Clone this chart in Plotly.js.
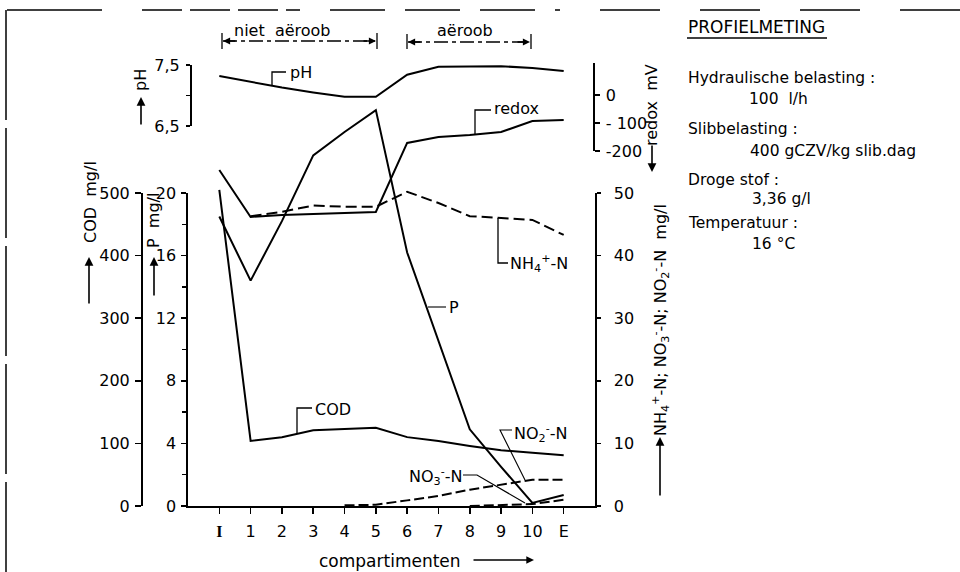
<!DOCTYPE html>
<html>
<head>
<meta charset="utf-8">
<script src="https://cdn.plot.ly/plotly-3.0.1.min.js"></script>
<style>html,body{margin:0;padding:0;background:#fff;}#chart{width:960px;height:572px;}</style>
</head>
<body>
<div id="chart"></div>
<script>
// ---- data ----
const CATS   = ['I','1','2','3','4','5','6','7','8','9','10','E'];
const COD    = [505, 104, 110, 121, 123, 125, 110, 104, 96, 89, 85, 81];          // mg/l
const P      = [18.5, 14.4, 18.2, 22.4, 23.9, 25.3, 16.2, 10.5, 4.9, 2.5, 0.2, 0.7]; // mg/l
const NH4    = [null, 46.3, 47.0, 48.0, 47.8, 47.8, 50.2, 48.4, 46.3, 46.0, 45.7, 43.3];
const NO2    = [null, null, null, null, 0.1, 0.2, 0.9, 1.6, 2.6, 3.4, 4.2, 4.2];
const NO3    = [null, null, null, null, null, null, null, null, 0.0, 0.1, 0.3, 1.0];
const REDOX  = [-268, -436, -429, -426, -422, -418, -171, -150, -143, -132, -93, -89]; // mV
const PH     = [7.32, 7.22, 7.13, 7.05, 6.98, 6.98, 7.34, 7.47, 7.48, 7.48, 7.45, 7.40];
const TICKTEXT_X = ['I','1','2','3','4','5','6','7','8','9','10','E'];

// ---- geometry helpers (pixels -> paper) ----
const W = 960, H = 572;
const px = x => x / W;
const py = y => 1 - y / H;
const FONT = 'DejaVu Sans';
const X0 = 188, X1 = 595;
const MAIN = [193, 506], PHD = [65, 126], RDX = [63, 151];
const DT = 30, DB = 545;
function dataRange(pTop, pBot, r0, r1) {
  const k = (pBot - pTop) / (r1 - r0);
  return [r0 - (DB - pBot) / k, r1 + (pTop - DT) / k];
}

const tf = {family: FONT, size: 16, color: 'black'};
const axBase = {
  showline: true, linecolor: 'black', linewidth: 1.6,
  ticks: 'outside', ticklen: 6, tickwidth: 1.5, tickcolor: 'black',
  showgrid: false, zeroline: false, tickfont: tf, fixedrange: true
};
const hidden = {visible: false, showgrid: false, zeroline: false, fixedrange: true};

const ln = (w, dash) => ({color: 'black', width: w, dash: dash || 'solid'});
const traces = [
  // empty traces to register display axes
  {x: [], y: [], xaxis: 'x', yaxis: 'y', showlegend: false},
  {x: [], y: [], xaxis: 'x', yaxis: 'y2', showlegend: false},
  {x: [], y: [], xaxis: 'x', yaxis: 'y3', showlegend: false},
  {x: [], y: [], xaxis: 'x', yaxis: 'y4', showlegend: false},
  {x: [], y: [], xaxis: 'x', yaxis: 'y5', showlegend: false},
  // data
  {name: 'COD',   x: CATS, y: COD,   xaxis: 'x2', yaxis: 'y6',  mode: 'lines', line: ln(2)},
  {name: 'P',     x: CATS, y: P,     xaxis: 'x2', yaxis: 'y7',  mode: 'lines', line: ln(2)},
  {name: 'NH4',   x: CATS, y: NH4,   xaxis: 'x2', yaxis: 'y8',  mode: 'lines', line: ln(2, '11px,5px')},
  {name: 'NO2',   x: CATS, y: NO2,   xaxis: 'x2', yaxis: 'y8',  mode: 'lines', line: ln(2, '10px,4px')},
  {name: 'NO3',   x: CATS, y: NO3,   xaxis: 'x2', yaxis: 'y8',  mode: 'lines', line: ln(2, '10px,4px')},
  {name: 'redox', x: CATS, y: REDOX, xaxis: 'x2', yaxis: 'y9',  mode: 'lines', line: ln(2)},
  {name: 'pH',    x: CATS, y: PH,    xaxis: 'x2', yaxis: 'y10', mode: 'lines', line: ln(2)}
];

const tickTextX = TICKTEXT_X.map((t, i) => i === 0 ? '<span style="font-family:Liberation Serif;font-weight:bold">' + t + '</span>' : t);

const layout = {
  width: W, height: H,
  margin: {l: 0, r: 0, t: 0, b: 0, pad: 0},
  paper_bgcolor: 'white', plot_bgcolor: 'rgba(0,0,0,0)',
  showlegend: false, hovermode: false, dragmode: false,
  font: {family: FONT, color: 'black', size: 16},
  xaxis: Object.assign({}, axBase, {
    domain: [px(X0), px(X1)], type: 'category', categoryorder: 'array', categoryarray: CATS,
    range: [-1, 12], anchor: 'y', tickmode: 'array', tickvals: CATS, ticktext: tickTextX,
    ticklabelstandoff: 4
  }),
  xaxis2: Object.assign({}, hidden, {
    domain: [px(X0), px(X1)], type: 'category', categoryorder: 'array', categoryarray: CATS,
    range: [-1, 12], anchor: 'y6'
  }),
  yaxis: Object.assign({}, axBase, {
    domain: [py(MAIN[1]), py(MAIN[0])], range: [0, 500], anchor: 'free', position: px(141),
    side: 'left', tickmode: 'linear', tick0: 0, dtick: 100, ticklabelstandoff: 2
  }),
  yaxis2: Object.assign({}, axBase, {
    overlaying: 'y', anchor: 'x', side: 'left', range: [0, 20], tickmode: 'linear', tick0: 0, dtick: 4,
    ticklen: 5, ticklabelstandoff: 2,
    minor: {tickmode: 'linear', tick0: 2, dtick: 4, ticks: 'outside', ticklen: 4, tickwidth: 1.3, tickcolor: 'black', showgrid: false}
  }),
  yaxis3: Object.assign({}, axBase, {
    overlaying: 'y', anchor: 'x', side: 'right', range: [0, 50], tickmode: 'linear', tick0: 0, dtick: 10,
    ticklen: 4, ticklabelstandoff: 10
  }),
  yaxis4: Object.assign({}, axBase, {
    domain: [py(PHD[1]), py(PHD[0])], range: [6.5, 7.5], anchor: 'free', position: px(190), side: 'left',
    tickmode: 'array', tickvals: [6.5, 7, 7.5], ticktext: ['6,5', '', '7,5'], ticklen: 4, ticklabelstandoff: 3
  }),
  yaxis5: Object.assign({}, axBase, {
    domain: [py(RDX[1]), py(RDX[0])], range: [-200, 115], anchor: 'free', position: px(593), side: 'right',
    tickmode: 'array', tickvals: [0, -100, -200], ticktext: ['0', '- 100', '-200'], ticklen: 5, ticklabelstandoff: 3
  }),
  yaxis6:  Object.assign({}, hidden, {domain: [py(DB), py(DT)], anchor: 'x2', range: dataRange(MAIN[0], MAIN[1], 0, 500)}),
  yaxis7:  Object.assign({}, hidden, {overlaying: 'y6', anchor: 'x2', range: dataRange(MAIN[0], MAIN[1], 0, 20)}),
  yaxis8:  Object.assign({}, hidden, {overlaying: 'y6', anchor: 'x2', range: dataRange(MAIN[0], MAIN[1], 0, 50)}),
  yaxis9:  Object.assign({}, hidden, {overlaying: 'y6', anchor: 'x2', range: dataRange(RDX[0], RDX[1], -200, 115)}),
  yaxis10: Object.assign({}, hidden, {overlaying: 'y6', anchor: 'x2', range: dataRange(PHD[0], PHD[1], 6.5, 7.5)}),
  shapes: [],
  annotations: []
};

// ---- helpers for decorations ----
function segLine(x0, y0, x1, y1, w, dash) {
  layout.shapes.push({type: 'line', xref: 'paper', yref: 'paper', x0: px(x0), y0: py(y0), x1: px(x1), y1: py(y1),
    line: {color: 'black', width: w || 1.2, dash: dash || 'solid'}});
}
function poly(pts, w) {
  const d = pts.map((p, i) => (i ? 'L' : 'M') + px(p[0]) + ',' + py(p[1])).join(' ');
  layout.shapes.push({type: 'path', xref: 'paper', yref: 'paper', path: d, line: {color: 'black', width: w || 1.3}});
}
function txt(x, y, text, o) {
  layout.annotations.push(Object.assign({
    xref: 'paper', yref: 'paper', x: px(x), y: py(y), text: text, showarrow: false,
    xanchor: 'left', yanchor: 'middle', font: {family: FONT, size: 16, color: 'black'}
  }, o || {}));
}
function arrow(xh, yh, ax, ay, w) {
  layout.annotations.push({xref: 'paper', yref: 'paper', x: px(xh), y: py(yh), ax: ax, ay: ay, text: '',
    showarrow: true, arrowhead: 2, arrowsize: 1.1, arrowwidth: w || 1.6, arrowcolor: 'black', standoff: 0, startstandoff: 0});
}

// frame of the scanned page
segLine(7, 10, 102, 10, 1.5); segLine(142, 10, 300, 10, 1.5, '40px,8px');
segLine(330, 10, 560, 10, 1.5, '55px,20px'); segLine(600, 10, 960, 10, 1.5, '60px,40px');
segLine(6, 10, 6, 572, 1.5, '110px,8px');

// top zone brackets
txt(232, 30, 'niet  aëroob');
txt(435, 30, 'aëroob');
segLine(222, 33, 222, 49, 1.3); segLine(377, 33, 377, 49, 1.3);
segLine(407, 34, 407, 49, 1.3); segLine(531, 34, 531, 49, 1.3);
segLine(223, 41, 376, 41, 1.3, '14px,4px,4px,4px');
segLine(408, 42, 530, 42, 1.3, '14px,4px,4px,4px');
arrow(223, 41, 14, 0, 1.3); arrow(376, 41, -14, 0, 1.3);
arrow(408, 42, 14, 0, 1.3); arrow(530, 42, -14, 0, 1.3);

// axis titles (rotated) with arrows
txt(90, 202, 'COD  mg/l', {textangle: -90, xanchor: 'center', yanchor: 'middle'});
arrow(89, 257, 0, 48);
txt(153, 221, 'P  mg/l', {textangle: -90, xanchor: 'center', yanchor: 'middle'});
arrow(154, 257, 0, 40);
txt(140, 80, 'pH', {textangle: -90, xanchor: 'center', yanchor: 'middle'});
arrow(141, 97, 0, 29);
txt(652, 105, 'redox  mV', {textangle: -90, xanchor: 'center', yanchor: 'middle'});
arrow(652, 172, 0, -28);
txt(660, 320, 'NH<sub>4</sub><sup>+</sup>-N; NO<sub>3</sub><sup>-</sup>-N; NO<sub>2</sub><sup>-</sup>-N  mg/l',
  {textangle: -90, xanchor: 'center', yanchor: 'middle'});
arrow(660, 437, 0, 60);
txt(390, 561, 'compartimenten', {xanchor: 'center', font: {family: FONT, size: 17, color: 'black'}});
arrow(534, 560, -62, 0, 1.4);

// series labels with pointers
poly([[272, 86], [272, 72], [286, 72]]); txt(288, 73, 'pH');
poly([[475, 135], [475, 110], [491, 110]]); txt(492, 109, 'redox');
poly([[498, 218], [498, 263], [508, 263]]); txt(508, 263, 'NH<sub>4</sub><sup>+</sup>-N');
poly([[428, 307], [446, 307]], 1.1); txt(447, 307, 'P');
poly([[297, 433], [297, 408], [312, 408]]); txt(313, 409, 'COD');
poly([[525, 480], [500, 430], [512, 430]], 1.1); txt(512, 433, 'NO<sub>2</sub><sup>-</sup>-N');
poly([[463, 475], [477, 475], [525, 503]], 1.1); txt(407, 476, 'NO<sub>3</sub><sup>-</sup>-N', {xanchor: 'left'});

// right text block
const rf = {family: FONT, size: 15.5, color: 'black'};
txt(686, 27, 'PROFIELMETING', {font: {family: FONT, size: 17, color: 'black'}});
segLine(687, 38, 827, 38, 1.5);
txt(686, 78, 'Hydraulische belasting :', {font: rf});
txt(747, 99, '100  l/h', {font: rf});
txt(686, 129, 'Slibbelasting :', {font: rf});
txt(748, 151, '400 gCZV/kg slib.dag', {font: rf});
txt(686, 180, 'Droge stof :', {font: rf});
txt(750, 199, '3,36 g/l', {font: rf});
txt(686, 223, 'Temperatuur :', {font: rf});
txt(750, 244, '16 °C', {font: rf});

Plotly.newPlot('chart', traces, layout, {staticPlot: true, displayModeBar: false});
</script>
</body>
</html>
